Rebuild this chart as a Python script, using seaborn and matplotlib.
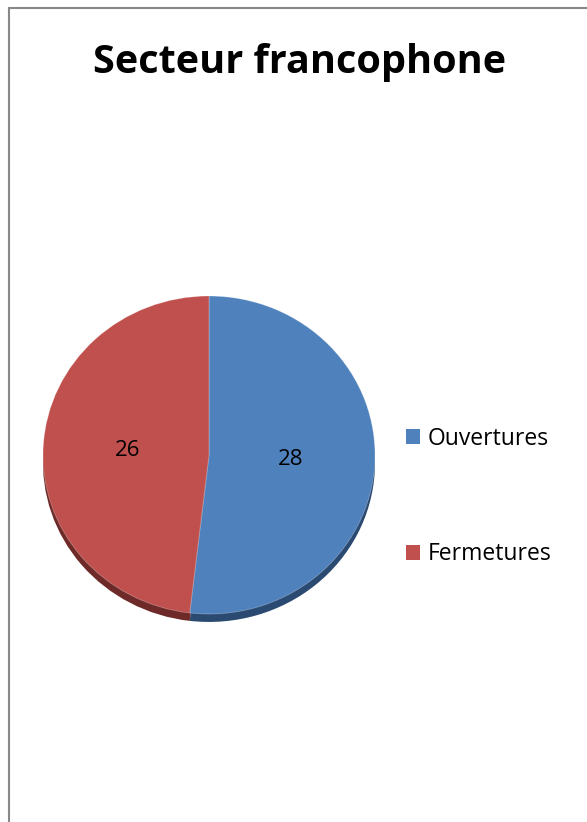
import matplotlib
matplotlib.use("Agg")
import matplotlib.pyplot as plt
import seaborn as sns
from matplotlib.lines import Line2D
from matplotlib.patches import Patch

sns.set_style("white")
plt.rcParams['font.family'] = ['Open Sans', 'DejaVu Sans']
plt.rcParams['text.color'] = 'black'

# Données
title = "Secteur francophone"
categories = ["Ouvertures", "Fermetures"]
values = [28, 26]
colors = ["#4F81BD", "#C0504D"]
shadow_colors = ["#2A4A72", "#6E2A28"]

fig = plt.figure(figsize=(5.87, 8.22), dpi=100)
W, H = 587, 822

# Axe du camembert (ellipse légère, avec l'épaisseur dessous)
ry = 159
ax = fig.add_axes([43 / W, 1 - 630 / H, 332 / W, 334 / H])
total = sum(values)

# ombre / épaisseur
ax.pie(values, colors=shadow_colors, startangle=90, counterclock=False,
       center=(0, -0.05), radius=1, wedgeprops=dict(linewidth=0))
wedges, texts, autotexts = ax.pie(
    values, colors=colors, startangle=90, counterclock=False,
    autopct=lambda p: f"{round(p * total / 100)}", pctdistance=0.49,
    radius=1, wedgeprops=dict(linewidth=0.6, edgecolor=(1, 1, 1, 0.3)))
for t in autotexts:
    t.set_fontsize(16)
    t.set_color("black")
ax.set_aspect("auto")
ax.set_xlim(-1, 1)
ax.set_ylim(1 - 334 / ry, 1)
ax.axis("off")

# Titre
fig.text(300 / W, 1 - 62 / H, title, ha="center", va="center",
         fontsize=28.5, fontweight="bold", color="black")

# Légende
handles = [Patch(facecolor=c, edgecolor="none") for c in colors]
leg = fig.legend(handles, categories, loc="center left",
                 bbox_to_anchor=(406 / W, 1 - 496.5 / H), frameon=False,
                 fontsize=16.5, labelspacing=4.0, handlelength=0.6, handleheight=0.6,
                 handletextpad=0.35, borderaxespad=0, borderpad=0)
for t in leg.get_texts():
    t.set_color("black")

# Cadre (haut et gauche)
fig.add_artist(Line2D([8.5 / W, 1], [1 - 8.5 / H, 1 - 8.5 / H], color="#888888", lw=1.5))
fig.add_artist(Line2D([8.5 / W, 8.5 / W], [0, 1 - 8.5 / H], color="#888888", lw=1.5))

fig.savefig("out.png", dpi=100)
